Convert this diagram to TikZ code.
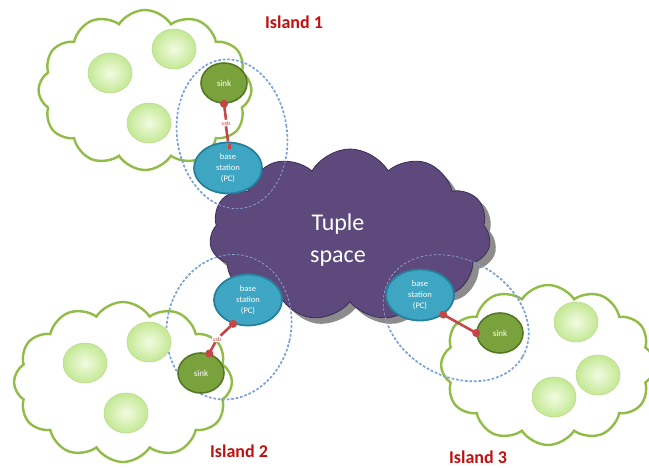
\documentclass[tikz,border=0pt]{standalone}
\usepackage{fontspec}
\setmainfont{Carlito}
\usetikzlibrary{shapes.symbols,shapes.geometric}

\definecolor{islandgreen}{RGB}{146,188,72}
\definecolor{tuplepurple}{RGB}{94,73,124}
\definecolor{tupleedge}{RGB}{60,45,85}
\definecolor{basefill}{RGB}{62,166,194}
\definecolor{baseedge}{RGB}{38,128,158}
\definecolor{sinkfill}{RGB}{122,162,60}
\definecolor{sinkedge}{RGB}{84,120,38}
\definecolor{motein}{RGB}{242,252,226}
\definecolor{moteout}{RGB}{196,232,148}
\definecolor{moteedge}{RGB}{184,220,140}
\definecolor{usbred}{RGB}{196,70,70}
\definecolor{rangeblue}{RGB}{105,150,208}
\definecolor{labelred}{RGB}{192,16,16}

\tikzset{
  islandcloud/.style={cloud, cloud puffs=12, cloud puff arc=115, draw=islandgreen,
    line width=2.4pt, fill=white, inner sep=0pt},
  tuplecloud/.style={cloud, cloud puffs=11, cloud puff arc=120, inner sep=0pt,
    minimum width=281pt, minimum height=172pt},
  mote/.style={ellipse, minimum width=44pt, minimum height=40pt, inner sep=0pt,
    inner color=motein, outer color=moteout, draw=moteedge, line width=0.6pt},
  sinknode/.style={ellipse, minimum width=46pt, minimum height=40pt, inner sep=0pt,
    fill=sinkfill, draw=sinkedge, line width=1.6pt, text=white,
    font=\fontsize{9}{10}\selectfont},
  basenode/.style={ellipse, minimum width=68pt, minimum height=51pt, inner sep=0pt,
    fill=basefill, draw=baseedge, line width=1.8pt, text=white, align=center,
    font=\fontsize{8.5}{11}\selectfont},
  usblabel/.style={fill=white, inner sep=1pt, text=usbred,
    font=\fontsize{6}{6}\selectfont},
  usbwire/.style={draw=usbred, line width=2.6pt},
  usbdot/.style={fill=usbred},
  rangering/.style={draw=rangeblue, line width=1.6pt, dash pattern=on 2.5pt off 2pt},
  rangeringthin/.style={draw=rangeblue!80!white, line width=0.7pt, dash pattern=on 2.5pt off 2pt},
  islandlabel/.style={text=labelred, font=\fontsize{18}{20}\selectfont\bfseries},
  ring1/.style={rotate around={8:(232,134)}},
  ring2/.style={rotate around={-13:(229,327)}},
  ring3/.style={rotate around={-30:(456,318)}},
}

\begin{document}
\begin{tikzpicture}[x=1pt,y=-1pt]
\useasboundingbox (0,0) rectangle (649,468);
\fill[white] (0,0) rectangle (649,468);

% island clouds
\node[islandcloud, minimum width=213pt, minimum height=160pt] (isl1) at (145,90) {};
\node[islandcloud, minimum width=218pt, minimum height=160pt] (isl2) at (123,382) {};
\node[islandcloud, minimum width=214pt, minimum height=160pt] (isl3) at (548,365) {};

% radio range of each base station (bold part, on white)
\draw[rangering, ring1] (232,134) ellipse [x radius=55pt, y radius=75pt];
\draw[rangering, ring2] (229,327) ellipse [x radius=62pt, y radius=73pt];
\draw[rangering, ring3] (456,318) ellipse [x radius=77pt, y radius=58pt];

% tuple space cloud with its shadow
\node[tuplecloud, fill=black!45] (tsshadow) at (356,241) {};
\node[tuplecloud, fill=tuplepurple, draw=tupleedge, line width=0.8pt] (ts) at (350,235) {};
\node[text=white, align=center, font=\fontsize{24}{32}\selectfont] (tstext) at (338,240) {Tuple\\space};

% radio range seen across the cloud
\draw[rangeringthin, ring1] (232,134) ellipse [x radius=55pt, y radius=75pt];
\draw[rangeringthin, ring2] (229,327) ellipse [x radius=62pt, y radius=73pt];
\draw[rangeringthin, ring3] (456,318) ellipse [x radius=77pt, y radius=58pt];

% motes of each island
\node[mote] (m11) at (110,73) {};
\node[mote] (m12) at (174,49) {};
\node[mote] (m13) at (149,123) {};
\node[mote] (m21) at (85,363) {};
\node[mote] (m22) at (149,342) {};
\node[mote] (m23) at (126,413) {};
\node[mote] (m31) at (576,322) {};
\node[mote] (m32) at (598,375) {};
\node[mote] (m33) at (554,397) {};

% sinks and base stations
\node[sinknode] (sink1) at (224,83) {sink};
\node[basenode] (bs1) at (228,168) {base\\station\\(PC)};
\node[sinknode] (sink2) at (201,373) {sink};
\node[basenode] (bs2) at (248,300) {base\\station\\(PC)};
\node[sinknode] (sink3) at (500,333) {sink};
\node[basenode] (bs3) at (420,295) {base\\station\\(PC)};

% usb links
\node[usblabel] (u1) at (226,123) {usb};
\draw[usbwire] (sink1.south) -- (u1.north);
\draw[usbwire] (u1.south) -- (bs1.north);
\fill[usbdot] (sink1.south) circle[radius=4pt];
\fill[usbdot] ([yshift=-2pt]bs1.north) rectangle ++(3pt,-5pt);

\node[usblabel] (u2) at (217,339) {usb};
\draw[usbwire] (bs2.-122) -- (u2);
\draw[usbwire] (u2) -- (sink2.67);
\fill[usbdot] (bs2.-122) circle[radius=4pt];
\fill[usbdot] (sink2.67) circle[radius=4pt];

\draw[usbwire] (bs3.-40) -- (sink3.west);
\fill[usbdot] (bs3.-40) circle[radius=4pt];
\fill[usbdot] (sink3.west) circle[radius=4pt];

% island names
\node[islandlabel] (lab1) at (294,22) {Island 1};
\node[islandlabel] (lab2) at (239,451) {Island 2};
\node[islandlabel] (lab3) at (478,457) {Island 3};
\end{tikzpicture}
\end{document}
